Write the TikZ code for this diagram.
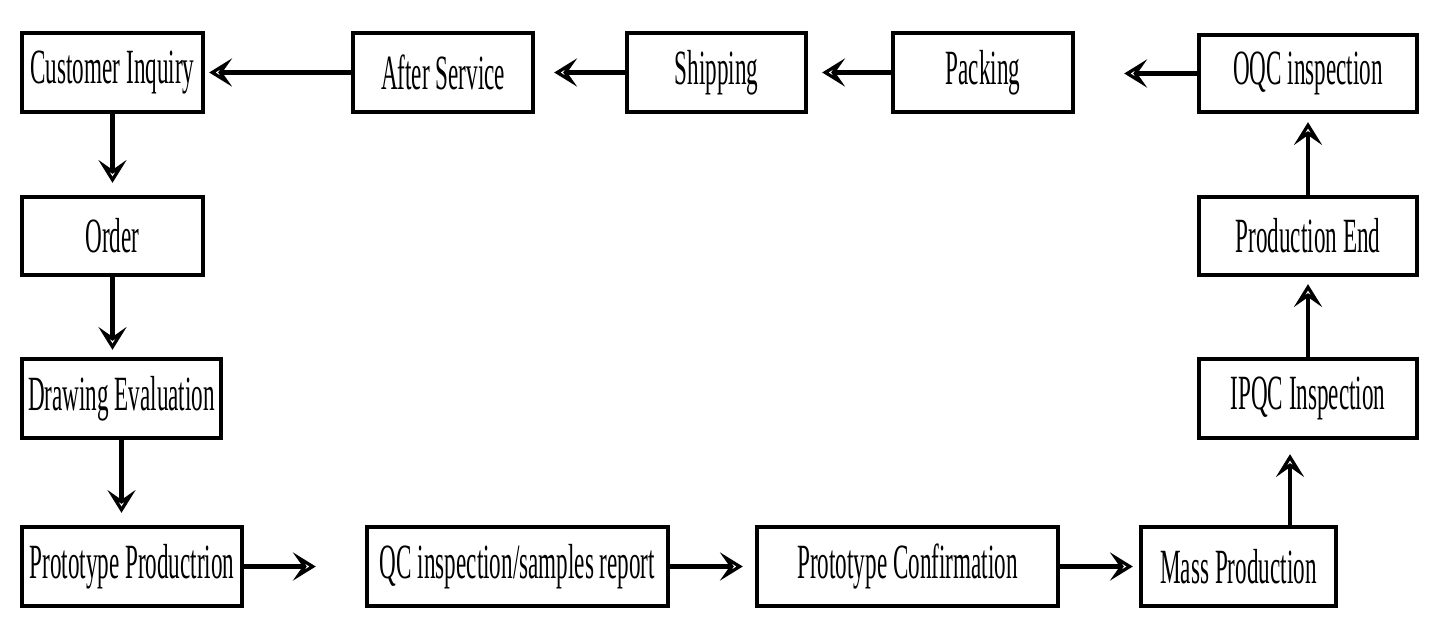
\documentclass[tikz,border=0pt]{standalone}
\usepackage{fontspec}
\setmainfont{Liberation Serif}[FakeStretch=0.47]
\usetikzlibrary{arrows.meta}
\begin{document}
\begin{tikzpicture}[x=0.01cm, y=-0.01cm, line width=1.2pt,
  >={Stealth[open,length=6.5pt,width=8pt,inset=2.8pt]},
  box/.style={draw, minimum height=0.79cm, inner sep=0pt,
    font=\fontsize{14pt}{16pt}\selectfont}]
\useasboundingbox (0,0) rectangle (1440,640);
% top row
\node[box, minimum width=1.81cm] (cust)  at (112.5,72.5) {Customer Inquiry};
\node[box, minimum width=1.80cm] (after) at (443,72.5)   {After Service};
\node[box, minimum width=1.79cm] (ship)  at (716.5,72.5) {Shipping};
\node[box, minimum width=1.80cm] (pack)  at (983,72.5)   {Packing};
\node[box, minimum width=2.18cm, minimum height=0.77cm] (oqc) at (1308,73.5) {OQC inspection};
% left column
\node[box, minimum width=1.81cm, minimum height=0.78cm] (order) at (112.5,236) {Order};
\node[box, minimum width=1.99cm] (drawev) at (121.5,398.5) {Drawing Evaluation};
% bottom row
\node[box, minimum width=2.20cm] (proto) at (132,566.5)   {Prototype Productrion};
\node[box, minimum width=3.01cm] (qc)    at (517.5,566.5) {QC inspection/samples report};
\node[box, minimum width=3.01cm] (conf)  at (907.5,566.5) {Prototype Confirmation};
\node[box, minimum width=1.95cm] (mass)  at (1238.5,566.5) {Mass Production};
% right column
\node[box, minimum width=2.18cm] (ipqc) at (1308,398.5) {IPQC Inspection};
\node[box, minimum width=2.18cm, minimum height=0.78cm] (pend) at (1308,236) {Production End};
\coordinate (massup) at (1290,527);
% arrows
\draw[->, shorten >=0.04cm] (after) -- (cust);
\draw[->, shorten >=0.19cm] (ship) -- (after);
\draw[->, shorten >=0.14cm] (pack) -- (ship);
\draw[->, shorten >=0.49cm] (oqc.west) -- (pack.east |- oqc.west);
\draw[->, shorten >=0.12cm] (cust) -- (order);
\draw[->, shorten >=0.07cm] (order.south) -- (order.south |- drawev.north);
\draw[->, shorten >=0.12cm] (drawev.south) -- (drawev.south |- proto.north);
\draw[->, shorten >=0.49cm] (proto) -- (qc);
\draw[->, shorten >=0.12cm] (qc) -- (conf);
\draw[->, shorten >=0.06cm] (conf) -- (mass);
\draw[->, shorten >=0.14cm] (massup) -- (massup |- ipqc.south);
\draw[->, shorten >=0.07cm] (ipqc) -- (pend);
\draw[->, shorten >=0.08cm] (pend) -- (oqc);
\end{tikzpicture}
\end{document}
